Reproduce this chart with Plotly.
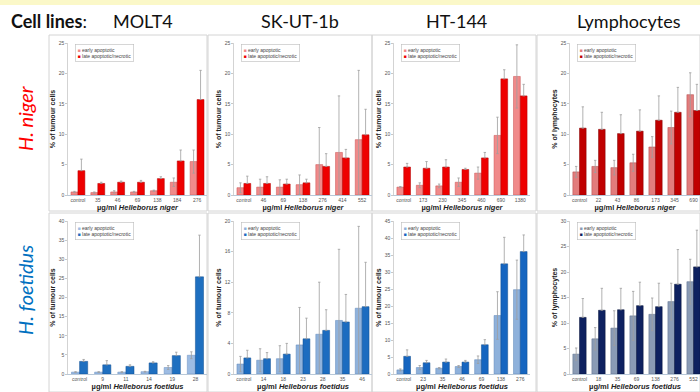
import plotly.graph_objects as go

# ---------------- DATA ----------------
# Row 1: Helleborus niger
molt4_niger_cats = ["control", "35", "46", "69", "138", "184", "276"]
molt4_niger_early = [0.5, 0.4, 0.5, 0.5, 0.7, 2.1, 5.5]
molt4_niger_early_err = [0.1, 0.1, 0.2, 0.1, 0.1, 0.7, 1.9]
molt4_niger_late = [4.0, 1.9, 2.1, 2.1, 2.7, 5.6, 15.7]
molt4_niger_late_err = [1.9, 0.2, 0.2, 0.3, 0.3, 1.8, 4.8]

skut_niger_cats = ["control", "46", "69", "138", "276", "414", "552"]
skut_niger_early = [1.2, 1.3, 1.3, 1.7, 5.0, 7.0, 9.1]
skut_niger_early_err = [0.8, 1.3, 1.2, 1.6, 6.1, 9.3, 11.4]
skut_niger_late = [1.9, 1.9, 1.8, 2.0, 4.7, 6.1, 9.9]
skut_niger_late_err = [1.2, 1.1, 0.8, 0.6, 2.1, 1.4, 4.2]

ht144_niger_cats = ["control", "173", "230", "345", "460", "690", "1380"]
ht144_niger_early = [1.3, 1.6, 1.5, 2.1, 3.6, 9.8, 19.5]
ht144_niger_early_err = [0.1, 0.4, 0.3, 0.7, 1.0, 3.0, 5.2]
ht144_niger_late = [4.6, 4.4, 4.6, 4.2, 6.1, 19.1, 16.3]
ht144_niger_late_err = [0.6, 1.1, 1.2, 0.2, 0.9, 1.5, 1.9]

lymph_niger_cats = ["control", "22", "43", "86", "173", "345", "690"]
lymph_niger_early = [3.8, 4.7, 4.5, 5.3, 7.9, 11.1, 16.5]
lymph_niger_early_err = [0.9, 1.0, 1.2, 1.4, 1.7, 2.7, 3.6]
lymph_niger_late = [11.0, 10.8, 10.1, 10.5, 12.3, 13.6, 13.9]
lymph_niger_late_err = [3.5, 2.8, 3.1, 3.5, 4.0, 4.1, 4.3]

# Row 2: Helleborus foetidus
molt4_foet_cats = ["control", "9", "11", "14", "19", "28"]
molt4_foet_early = [0.5, 0.5, 0.5, 0.6, 1.7, 4.9]
molt4_foet_early_err = [0.1, 0.1, 0.1, 0.1, 0.5, 0.9]
molt4_foet_late = [3.3, 2.4, 2.0, 2.9, 4.8, 25.4]
molt4_foet_late_err = [0.5, 1.1, 0.4, 0.3, 0.9, 10.9]

skut_foet_cats = ["control", "14", "18", "23", "28", "35", "46"]
skut_foet_early = [1.3, 1.8, 2.0, 3.8, 5.2, 7.0, 8.6]
skut_foet_early_err = [1.0, 1.5, 1.7, 4.9, 6.8, 9.3, 10.7]
skut_foet_late = [2.1, 2.0, 2.6, 4.6, 5.7, 6.8, 8.8]
skut_foet_late_err = [1.0, 0.8, 1.4, 2.7, 2.7, 3.6, 5.8]

ht144_foet_cats = ["control", "23", "35", "46", "69", "138", "276"]
ht144_foet_early = [1.2, 1.9, 1.7, 2.2, 4.2, 17.2, 24.8]
ht144_foet_early_err = [0.3, 0.6, 0.2, 0.3, 1.1, 7.0, 8.7]
ht144_foet_late = [5.2, 3.3, 3.5, 3.5, 8.6, 32.4, 36.0]
ht144_foet_late_err = [1.9, 0.7, 0.9, 0.5, 1.5, 7.8, 4.9]

lymph_foet_cats = ["control", "18", "35", "69", "138", "276", "552"]
lymph_foet_early = [3.9, 6.9, 9.0, 11.4, 11.7, 14.2, 18.1]
lymph_foet_early_err = [1.2, 2.2, 3.4, 4.8, 3.2, 3.6, 4.4]
lymph_foet_late = [11.1, 12.5, 12.6, 13.4, 13.2, 17.6, 21.0]
lymph_foet_late_err = [3.7, 4.3, 4.2, 4.6, 4.6, 6.8, 7.2]

cell_lines = ["MOLT4", "SK-UT-1b", "HT-144", "Lymphocytes"]
y_max = [25, 25, 25, 25, 40, 20, 45, 30]
y_step = [5, 5, 5, 5, 5, 4, 5, 5]

# ---------------- LAYOUT HELPERS ----------------
W, H = 700, 392
def fx(p):
    return p / W
def fy(p):
    return 1 - p / H

col_px = [(68, 207), (234, 372), (394, 530), (570, 700)]
row_px = [(43, 195), (221, 374)]

panels = [
    (molt4_niger_cats, molt4_niger_early, molt4_niger_early_err, molt4_niger_late, molt4_niger_late_err),
    (skut_niger_cats, skut_niger_early, skut_niger_early_err, skut_niger_late, skut_niger_late_err),
    (ht144_niger_cats, ht144_niger_early, ht144_niger_early_err, ht144_niger_late, ht144_niger_late_err),
    (lymph_niger_cats, lymph_niger_early, lymph_niger_early_err, lymph_niger_late, lymph_niger_late_err),
    (molt4_foet_cats, molt4_foet_early, molt4_foet_early_err, molt4_foet_late, molt4_foet_late_err),
    (skut_foet_cats, skut_foet_early, skut_foet_early_err, skut_foet_late, skut_foet_late_err),
    (ht144_foet_cats, ht144_foet_early, ht144_foet_early_err, ht144_foet_late, ht144_foet_late_err),
    (lymph_foet_cats, lymph_foet_early, lymph_foet_early_err, lymph_foet_late, lymph_foet_late_err),
]

# (early fill, early line, late fill, late line)
colors = [
    ("#F08A8A", "#C85050", "#EE0000", "#B00000"),
    ("#F08A8A", "#C85050", "#EE0000", "#B00000"),
    ("#F08A8A", "#C85050", "#EE0000", "#B00000"),
    ("#E27C7C", "#B04848", "#C00000", "#800000"),
    ("#9DBCE3", "#6A8FBF", "#1E6FC0", "#104F90"),
    ("#8FB2DC", "#5F86B8", "#1C6CC0", "#0F4E90"),
    ("#8EB1DB", "#5F86B8", "#1565C0", "#0D4A8C"),
    ("#8A9BB5", "#5C6E8A", "#0E2160", "#061238"),
]

xtitles = ["Helleborus niger"] * 4 + ["Helleborus foetidus"] * 4
ytitles = ["% of tumour cells"] * 3 + ["% of lymphocytes"] + ["% of tumour cells"] * 3 + ["% of lymphocytes"]

tickfont = dict(family="Liberation Sans, Arial", size=5, color="#555555")
err_style = dict(type="data", visible=True, color="#9E9E9E", thickness=0.8, width=1.2)

fig = go.Figure()
layout = dict(
    width=W, height=H, margin=dict(l=0, r=0, t=0, b=0, autoexpand=False),
    paper_bgcolor="white", plot_bgcolor="white",
    barmode="group", bargap=0.3, bargroupgap=0.0,
    showlegend=False,
    font=dict(family="Liberation Sans, Arial", color="#333"),
)
annotations = []
shapes = []

for i, (cats, early, eerr, late, lerr) in enumerate(panels):
    r, c = divmod(i, 4)
    sfx = "" if i == 0 else str(i + 1)
    xa, ya = "x" + sfx, "y" + sfx
    ef, el, lf, ll = colors[i]
    fig.add_trace(go.Bar(
        x=cats, y=early, name="early apoptotic", xaxis=xa, yaxis=ya,
        marker=dict(color=ef, line=dict(color=el, width=0.5)),
        error_y=dict(array=eerr, **err_style)))
    fig.add_trace(go.Bar(
        x=cats, y=late, name="late apoptotic/necrotic", xaxis=xa, yaxis=ya,
        marker=dict(color=lf, line=dict(color=ll, width=0.5)),
        error_y=dict(array=lerr, symmetric=False, arrayminus=[0] * len(lerr), **err_style)))

    x0, x1 = col_px[c]
    y0, y1 = row_px[r]
    n = len(cats)
    xr = [-0.5, 6.34] if c == 3 else [-0.5, n - 0.5]
    layout["xaxis" + sfx] = dict(
        domain=[fx(x0), fx(x1)], anchor=ya, type="category", range=xr,
        automargin=False,
        showline=True, linecolor="#B8C8D8", linewidth=1,
        ticks="", tickfont=tickfont,
        showgrid=False, zeroline=False, fixedrange=True,
        title=dict(text="<b>µg/ml <i>" + xtitles[i] + "</i></b>",
                   font=dict(size=7.5, color="#222"), standoff=2),
    )
    layout["yaxis" + sfx] = dict(
        domain=[fy(y1), fy(y0)], anchor=xa, range=[0, y_max[i]],
        automargin=False,
        dtick=y_step[i], tick0=0,
        showline=True, linecolor="#C8C8C8", linewidth=0.8,
        ticks="outside", ticklen=2, tickcolor="#C8C8C8", tickfont=tickfont,
        showgrid=False, zeroline=False, fixedrange=True,
        title=dict(text="<b>" + ytitles[i] + "</b>", font=dict(size=7, color="#222"), standoff=2),
    )
    # legend box
    annotations.append(dict(
        xref=xa + " domain", yref=ya + " domain", x=0.05, y=0.995,
        xanchor="left", yanchor="top", align="left", showarrow=False,
        text=("<span style='color:%s'>■</span> early apoptotic<br>"
              "<span style='color:%s'>■</span> late apoptotic/necrotic") % (ef, lf),
        font=dict(size=5, color="#444", family="Liberation Sans, Arial"),
        bordercolor="#BBBBBB", borderwidth=0.6, borderpad=2, bgcolor="white",
    ))

# panel frames
frame_x = [(49, 207), (208, 372), (372, 536), (537, 700)]
frame_y = [(35, 211), (213, 392)]
for (fy0, fy1) in frame_y:
    for (fx0, fx1) in frame_x:
        shapes.append(dict(type="rect", xref="paper", yref="paper",
                           x0=fx(fx0), x1=fx(fx1), y0=fy(fy1), y1=fy(fy0),
                           line=dict(color="#D4D4D4", width=1), layer="below"))

# top yellow strip
shapes.append(dict(type="rect", xref="paper", yref="paper", x0=0, x1=1,
                   y0=fy(5), y1=1, fillcolor="#FBF8C8", line=dict(width=0), layer="below"))

# header
annotations.append(dict(xref="paper", yref="paper", x=fx(9), y=fy(21), xanchor="left",
                        yanchor="middle", showarrow=False, text="<b>Cell lines</b>:",
                        font=dict(family="Lato, Liberation Sans", size=18, color="#111")))
for name, cx in zip(cell_lines, [143, 300, 457, 629]):
    annotations.append(dict(xref="paper", yref="paper", x=fx(cx), y=fy(21), xanchor="center",
                            yanchor="middle", showarrow=False, text=name,
                            font=dict(family="Lato, Liberation Sans", size=18, color="#111")))

# row labels
annotations.append(dict(xref="paper", yref="paper", x=fx(25), y=fy(118), textangle=-90,
                        xanchor="center", yanchor="middle",
                        showarrow=False, text="<i>H. niger</i>",
                        font=dict(family="Lato, Liberation Sans", size=20, color="#FF0000")))
annotations.append(dict(xref="paper", yref="paper", x=fx(25), y=fy(290), textangle=-90,
                        xanchor="center", yanchor="middle",
                        showarrow=False, text="<i>H. foetidus</i>",
                        font=dict(family="Lato, Liberation Sans", size=20, color="#0070C0")))

layout["annotations"] = annotations
layout["shapes"] = shapes
fig.update_layout(**layout)
fig.write_html("out.html",
               config={"displayModeBar": False, "staticPlot": True},
               post_script="document.body.style.margin='0';document.body.style.overflow='hidden';")
